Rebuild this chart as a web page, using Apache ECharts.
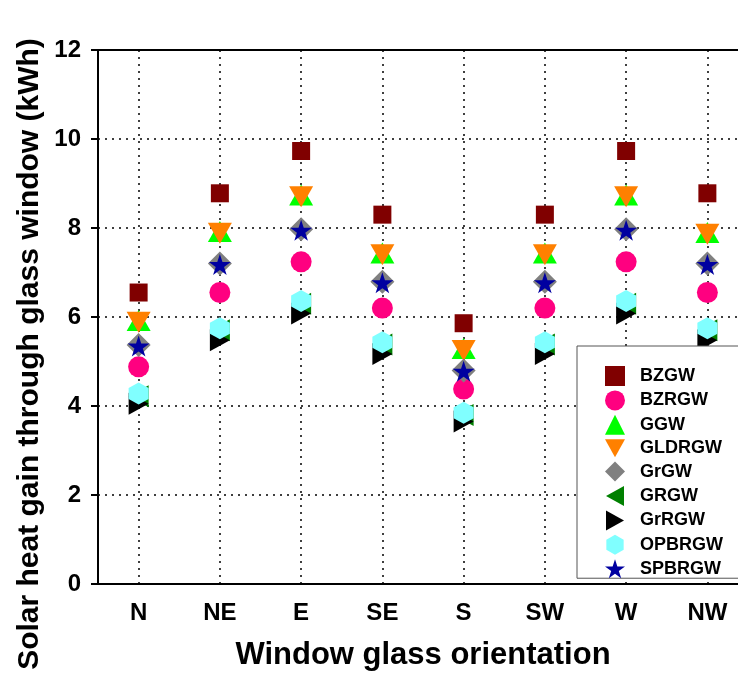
<!DOCTYPE html>
<html>
<head>
<meta charset="utf-8">
<script src="https://cdn.jsdelivr.net/npm/echarts@6/dist/echarts.min.js"></script>
<style>html,body{margin:0;padding:0;background:#fff;}#c{width:738px;height:677px;}</style>
</head>
<body>
<div id="c"></div>
<script>
const categories = ['N', 'NE', 'E', 'SE', 'S', 'SW', 'W', 'NW'];
const seriesNames = ['BZGW', 'BZRGW', 'GGW', 'GLDRGW', 'GrGW', 'GRGW', 'GrRGW', 'OPBRGW', 'SPBRGW'];
const BZGW   = [6.55, 8.78, 9.73, 8.30, 5.86, 8.30, 9.73, 8.78];
const BZRGW  = [4.88, 6.55, 7.24, 6.20, 4.38, 6.20, 7.24, 6.55];
const GGW    = [5.92, 7.92, 8.74, 7.44, 5.29, 7.44, 8.74, 7.90];
const GLDRGW = [5.88, 7.88, 8.70, 7.40, 5.25, 7.40, 8.70, 7.86];
const GrGW   = [5.37, 7.20, 7.97, 6.79, 4.80, 6.79, 7.97, 7.20];
const GRGW   = [4.22, 5.70, 6.30, 5.38, 3.80, 5.38, 6.30, 5.70];
const GrRGW  = [4.05, 5.48, 6.08, 5.17, 3.65, 5.17, 6.08, 5.48];
const OPBRGW = [4.28, 5.75, 6.36, 5.43, 3.85, 5.43, 6.36, 5.75];
const SPBRGW = [5.35, 7.18, 7.95, 6.77, 4.78, 6.77, 7.95, 7.18];
const yTicks = [0, 2, 4, 6, 8, 10, 12];
const xTitle = 'Window glass orientation';
const yTitle = 'Solar heat gain through glass window (kWh)';

const values = [BZGW, BZRGW, GGW, GLDRGW, GrGW, GRGW, GrRGW, OPBRGW, SPBRGW];
const hex = 'path://M0,-1 L0.866,-0.5 L0.866,0.5 L0,1 L-0.866,0.5 L-0.866,-0.5 Z';
const star = 'path://M0,-1 L0.2245,-0.309 L0.951,-0.309 L0.363,0.118 L0.588,0.809 L0,0.382 L-0.588,0.809 L-0.363,0.118 L-0.951,-0.309 L-0.2245,-0.309 Z';
const triDown = 'path://M0,0 L2,0 L1,1.8 Z';
const triLeft = 'path://M0,1 L1.8,0 L1.8,2 Z';
const triRight = 'path://M0,0 L1.8,1 L0,2 Z';
const styles = [
  {symbol: 'rect', size: 18, color: '#800000'},
  {symbol: 'circle', size: 21, color: '#FF0080'},
  {symbol: 'triangle', size: [24, 21], color: '#00FF00'},
  {symbol: triDown, size: [24, 21], color: '#FF8000'},
  {symbol: 'diamond', size: 24, color: '#808080'},
  {symbol: triLeft, size: [20, 22], color: '#008000'},
  {symbol: triRight, size: [20, 22], color: '#000000'},
  {symbol: hex, size: [20, 22], color: '#80FFFF'},
  {symbol: star, size: [22, 21], color: '#0000A0'}
];

const font = '"Liberation Sans", Arial, sans-serif';
const chart = echarts.init(document.getElementById('c'), null, {renderer: 'canvas'});
chart.setOption({
  animation: false,
  backgroundColor: '#fff',
  grid: {left: 98, top: 50, height: 534, width: 650, outerBoundsMode: 'none', containLabel: false,
         show: true, borderColor: '#000', borderWidth: 2},
  legend: {
    orient: 'vertical', left: 577, top: 346,
    padding: [20, 80, 0, 28],
    itemWidth: 20, itemHeight: 20, itemGap: 4.4,
    borderColor: '#555', borderWidth: 1, backgroundColor: '#fff',
    textStyle: {fontFamily: font, fontWeight: 'bold', fontSize: 18, color: '#000', padding: [0, 0, 0, 10]},
    data: seriesNames
  },
  graphic: [{
    type: 'text', x: 30, y: 354, rotation: Math.PI / 2,
    style: {text: yTitle, align: 'center', verticalAlign: 'middle', fill: '#000',
            font: 'bold 30px "Liberation Sans", Arial, sans-serif'}
  }],
  xAxis: {
    type: 'category', data: categories, boundaryGap: true,
    name: xTitle, nameLocation: 'middle', nameGap: 56,
    nameTextStyle: {fontFamily: font, fontWeight: 'bold', fontSize: 31, color: '#000'},
    axisLine: {lineStyle: {color: '#000', width: 2}},
    axisTick: {alignWithLabel: true, length: 7, lineStyle: {color: '#000', width: 2}},
    axisLabel: {fontFamily: font, fontWeight: 'bold', fontSize: 24, color: '#000', margin: 17},
    splitLine: {show: true, alignWithLabel: true, lineStyle: {color: '#000', type: [2, 5], width: 1.5}}
  },
  yAxis: {
    type: 'value', min: yTicks[0], max: yTicks[yTicks.length - 1], interval: 2,
    axisLine: {show: true, lineStyle: {color: '#000', width: 2}},
    axisTick: {show: true, length: 7, lineStyle: {color: '#000', width: 2}},
    axisLabel: {fontFamily: font, fontWeight: 'bold', fontSize: 24, color: '#000', margin: 17},
    splitLine: {show: true, lineStyle: {color: '#000', type: [2, 5], width: 1.5}}
  },
  series: seriesNames.map((n, i) => ({
    name: n, type: 'scatter', data: values[i],
    symbol: styles[i].symbol, symbolSize: styles[i].size,
    itemStyle: {color: styles[i].color, opacity: 1},
    emphasis: {disabled: true}
  }))
});
</script>
</body>
</html>
